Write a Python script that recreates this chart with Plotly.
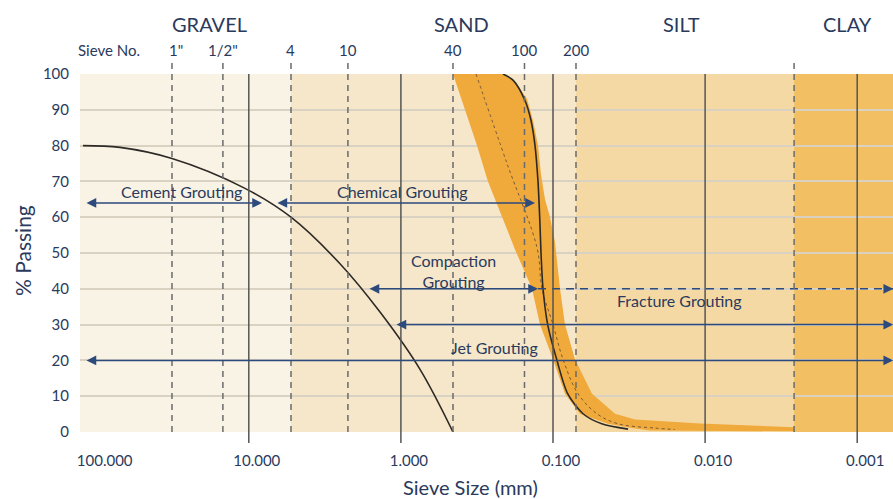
import numpy as np
import plotly.graph_objects as go

# ---------------- data ----------------
tick_vals = [100, 10, 1, 0.1, 0.01, 0.001]
tick_text = ["100.000", "10.000", "1.000", "0.100", "0.010", "0.001"]
y_ticks = [0, 10, 20, 30, 40, 50, 60, 70, 80, 90, 100]

zones = ["GRAVEL", "SAND", "SILT", "CLAY"]
sieve_labels = ['1"', '1/2"', "4", "10", "40", "100", "200"]
sieve_sizes = [32.0, 14.8, 5.28, 2.23, 0.4545, 0.154, 0.0706]
clay_limit = 0.0026
decade_lines = [10, 1, 0.1, 0.01, 0.001]

# region boundaries (mm) for the background shading
region_edges = [1000, 5.28, 0.0706, 0.0026, 0.0001]
region_colors = ["#f9f3e6", "#f6e7ca", "#f5d9a4", "#f2bf63"]

# coarse grading curve
gravel_size = [123.1, 70.3, 32.0, 10.75, 5.28, 2.514, 1.372, 0.7489, 0.4545]
gravel_pass = [80, 79.5, 76.4, 68.2, 60, 47, 33.5, 17.5, 0]

# fine (sand) grading curve
sand_size = [0.2132, 0.1832, 0.1528, 0.1395, 0.1313, 0.1255, 0.1218, 0.1199,
             0.1163, 0.1084, 0.0946, 0.0801, 0.0635, 0.0478, 0.0321]
sand_pass = [100, 98.3, 92.6, 87, 80, 70, 58, 50, 40, 30, 20.3, 10.7, 5.1, 2.3, 0.8]

# dotted mid curve inside the band
mid_size = [0.3207, 0.2006, 0.1274, 0.1181, 0.1000, 0.0859, 0.0685, 0.0514,
            0.0374, 0.0214, 0.0158]
mid_pass = [100, 75, 51.5, 40, 30, 20.3, 10.7, 5.1, 2.3, 1.1, 0.7]

# orange band: coarse boundary (top -> bottom)
band_left_size = [0.4545, 0.3790, 0.3160, 0.2676, 0.2164, 0.1778, 0.1374, 0.1218,
                  0.1000, 0.0834, 0.0665, 0.0435, 0.0312, 0.0230, 0.0026]
band_left_pass = [100, 90, 80, 70, 60, 51, 40, 30, 20.3, 10.7, 5.1, 2.3, 1.2, 0.4, 0.2]
# orange band: fine boundary (bottom -> top)
band_right_size = [0.0026, 0.0108, 0.0198, 0.0289, 0.0391, 0.0554, 0.0717, 0.0834,
                   0.0899, 0.0970, 0.1046, 0.1129, 0.1199, 0.1255, 0.1353, 0.1482,
                   0.1778, 0.2132]
band_right_pass = [1.3, 2.4, 3.0, 3.5, 5.1, 10.7, 20.3, 30, 40, 53, 60, 65, 72, 80,
                   87, 93, 98, 100]

# grouting ranges (from mm, to mm, % level)
edge_mm = 0.00058
arrow_from = [119.4, 6.63, 1.645, 1.093, 119.4]
arrow_to = [8.19, 0.1313, 0.1255, edge_mm, edge_mm]
arrow_level = [64, 64, 40, 30, 20]
fracture_from, fracture_to, fracture_level = 0.1255, edge_mm, 40

grout_labels = ["Cement Grouting", "Chemical Grouting", "Compaction<br>Grouting",
                "Fracture Grouting", "Jet Grouting"]

# ---------------- styling ----------------
FONT = "Lato"
TXT = "#2a3a5c"
ARROW = "#2c4a7c"

W, H = 893, 499
L, R, T, B = 80, 0, 74, 67
pw, ph = W - L - R, H - T - B


def px_to_paper_x(px):
    return (px - L) / pw


def px_to_paper_y(py):
    return (H - B - py) / ph


fig = go.Figure()

# orange band
fig.add_trace(go.Scatter(
    x=band_left_size + band_right_size,
    y=band_left_pass + band_right_pass,
    mode="lines", fill="toself", fillcolor="#f0a93b",
    line=dict(width=0, color="#f0a93b"), hoverinfo="skip", showlegend=False))

# dotted mid curve
fig.add_trace(go.Scatter(
    x=mid_size, y=mid_pass, mode="lines",
    line=dict(color="#7a5a32", width=1, dash="3px,3px", shape="spline"),
    showlegend=False))

# grading curves
fig.add_trace(go.Scatter(
    x=gravel_size, y=gravel_pass, mode="lines",
    line=dict(color="#2d2a26", width=1.6, shape="spline", smoothing=1.0),
    showlegend=False))
fig.add_trace(go.Scatter(
    x=sand_size, y=sand_pass, mode="lines",
    line=dict(color="#2d2a26", width=1.6, shape="spline", smoothing=0.8),
    showlegend=False))

# dashed fracture line
fig.add_trace(go.Scatter(
    x=[fracture_from, fracture_to], y=[fracture_level, fracture_level], mode="lines",
    line=dict(color=ARROW, width=1.5, dash="8px,6px"), showlegend=False))

shapes = []
# background regions
for i, c in enumerate(region_colors):
    shapes.append(dict(type="rect", xref="x", yref="y", x0=region_edges[i],
                       x1=region_edges[i + 1], y0=0, y1=100, fillcolor=c,
                       line=dict(width=0), layer="below"))
# solid decade lines
for v in decade_lines:
    shapes.append(dict(type="line", xref="x", yref="paper", x0=v, x1=v,
                       y0=-0.031, y1=1, line=dict(color="#555555", width=1.5)))
# dashed sieve lines + clay limit
for v in sieve_sizes + [clay_limit]:
    shapes.append(dict(type="line", xref="x", yref="paper", x0=v, x1=v,
                       y0=0, y1=1.034, line=dict(color="#6a6a6a", width=1.5,
                                                 dash="6px,5px")))

annotations = []
# arrows
for a, b, lev in zip(arrow_from, arrow_to, arrow_level):
    annotations.append(dict(
        x=np.log10(b), y=lev, ax=np.log10(a), ay=lev,
        xref="x", yref="y", axref="x", ayref="y", text="", showarrow=True,
        arrowhead=2, arrowside="end+start", arrowsize=1.3, arrowwidth=1.5,
        arrowcolor=ARROW, standoff=0, startstandoff=0))
# arrowhead at the end of the dashed line
annotations.append(dict(
    x=np.log10(fracture_to), y=fracture_level, ax=np.log10(fracture_to) + 0.05,
    ay=fracture_level, xref="x", yref="y", axref="x", ayref="y", text="",
    showarrow=True, arrowhead=2, arrowsize=1.3, arrowwidth=1.5, arrowcolor=ARROW))


def label(text, px, py, size, **kw):
    d = dict(text=text, xref="paper", yref="paper", x=px_to_paper_x(px),
             y=px_to_paper_y(py), xanchor="center", yanchor="middle",
             showarrow=False, align="center",
             font=dict(family=FONT, size=size, color=TXT))
    d.update(kw)
    return d


# zone labels
for z, px in zip(zones, [209, 461, 681, 847]):
    annotations.append(label(z, px, 24, 20))
# sieve labels
annotations.append(label("Sieve No.", 109, 50, 15))
for lab, v in zip(sieve_labels, sieve_sizes):
    annotations.append(dict(text=lab, xref="x", yref="paper", x=np.log10(v),
                            y=px_to_paper_y(50), xanchor="center", yanchor="middle",
                            showarrow=False, xshift=4 if lab == '1"' else 0,
                            font=dict(family=FONT, size=15, color=TXT)))
# grouting labels
for lab, (px, py) in zip(grout_labels, [(181, 191), (402, 191), (453, 271),
                                        (679, 300), (494, 347)]):
    annotations.append(label(lab, px, py, 16))
# axis titles
annotations.append(label("Sieve Size (mm)", 470, 487, 20))
annotations.append(label("% Passing", 22, 250, 21, textangle=-90))

fig.update_layout(
    width=W, height=H,
    margin=dict(l=L, r=R, t=T, b=B),
    paper_bgcolor="white", plot_bgcolor="rgba(0,0,0,0)",
    showlegend=False,
    shapes=shapes, annotations=annotations,
    xaxis=dict(type="log", range=[2.1098, -3.2354], tickvals=tick_vals,
               ticktext=tick_text, showgrid=False, zeroline=False, showline=False,
               ticks="", ticklabelstandoff=18, ticklabelshift=-8,
               tickfont=dict(family=FONT, size=15, color=TXT)),
    yaxis=dict(range=[0, 100], tickvals=y_ticks, showgrid=True,
               gridcolor="#d9d1c1", gridwidth=1.5, zeroline=False, showline=False,
               ticks="", ticklabelstandoff=10,
               tickfont=dict(family=FONT, size=15, color=TXT)),
)

fig.write_html("out.html", config={"displayModeBar": False},
               post_script="document.body.style.margin='0';document.body.style.overflow='hidden';")
